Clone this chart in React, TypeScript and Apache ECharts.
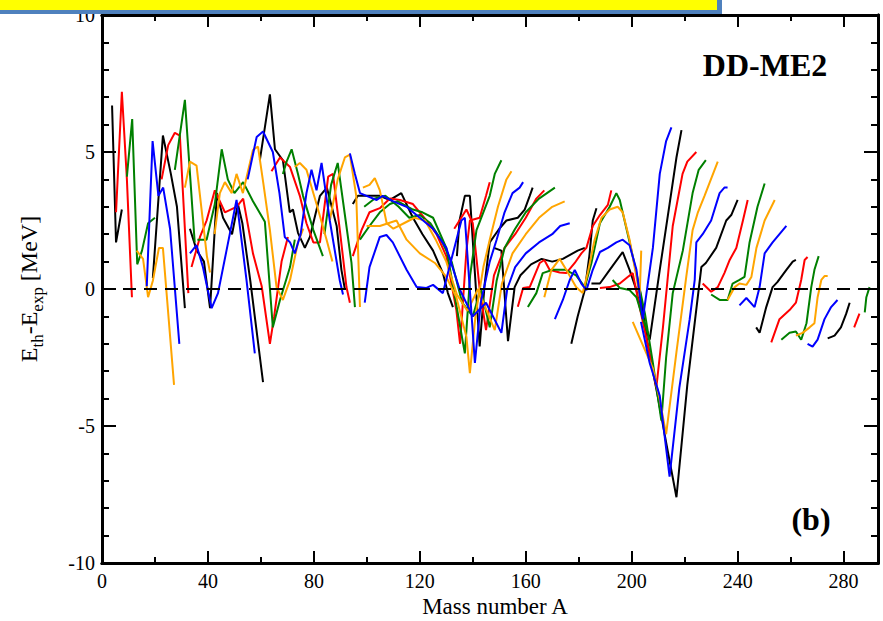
import React, { useEffect, useRef } from "react";
import * as echarts from "echarts";

const X_MAJOR = [0, 40, 80, 120, 160, 200, 240, 280];
const X_MINOR = [20, 60, 100, 140, 180, 220, 260];
const Y_MAJOR = [-10, -5, 0, 5, 10];
const Y_MINOR = [-9, -8, -7, -6, -4, -3, -2, -1, 1, 2, 3, 4, 6, 7, 8, 9];

const blackChains = [
  [[3.8, 6.7], [5.3, 1.7], [7.5, 2.9]],
  [[19.2, 0.4], [23, 5.6], [26, 4.2], [28.3, 3.0], [31.3, -0.7]],
  [[33.2, 2.2], [35.8, 1.4], [38.5, 1.0], [40.8, -0.7], [43.4, 3.5], [45.7, 2.6], [49.1, 2.0], [51.3, 3.1], [53, 2.4], [56, 0.3], [60.8, -3.4]],
  [[59.6, 4.7], [63.4, 7.1], [65.3, 5.1], [68.3, 4.7], [70.9, 2.8], [72.1, 2.9], [74, 2.05], [76.6, 1.5], [78.5, 1.9], [82.3, 3.4], [84.9, 3.7], [88.6, 2.3], [90.4, 0.7], [91.7, 0.0]],
  [[94.7, 3.1], [96.6, 3.4], [100.4, 3.4], [104.9, 3.4], [108.7, 3.25], [113, 3.5], [117.4, 2.6], [121, 2.0], [125, 1.4], [128.7, 0.58], [130.6, -0.15], [132.5, -0.66]],
  [[134, 1.2], [135, 2.5], [137, 3.4], [138.9, 3.4], [142.6, -2.1], [144.5, 0.2], [146.4, 1.7], [150, 2.2], [152.7, 2.5], [157, 2.6], [159.6, 2.9], [161.5, 3.4], [162.6, 3.7]],
  [[148, 1.5], [150.8, 1.4], [153.3, -1.9], [155.8, 0.07], [158, 0.5], [162, 0.9], [166, 1.1], [170, 1.0], [174, 1.1], [179.6, 1.4], [182.3, 1.5]],
  [[177.2, -2.0], [179.6, -1.0], [182.3, -0.04], [184, 1.2], [185.3, 2.5], [186.7, 2.95]],
  [[184.8, 0.2], [188, 0.2], [191.7, 0.7], [196.6, 1.35], [199.2, 0.7], [201.8, -0.04], [204, -1.0], [206.8, -1.85], [210.6, 0.7], [214.3, 3.1], [216.9, 4.8], [218.8, 5.8]],
  [[203, 0.0], [206, -2.0], [210, -4.0], [213, -5.6], [216.9, -7.6], [221, -3.5], [226.3, 0.8], [228, 0.95], [231.9, 1.5], [235.7, 2.5], [237.6, 2.7], [240, 3.25]],
  [[247, -1.4], [248.3, -1.6], [250.8, -0.66], [253.2, 0.07], [255, 0.25], [258.4, 0.7], [260.8, 1.0], [262, 1.06]],
  [[274, -1.8], [276.6, -1.7], [279, -1.4], [281, -0.9], [282.3, -0.5]],
];

const redChains = [
  [[5.3, 2.8], [7.5, 7.2], [9.4, 4.0], [11.3, -0.3]],
  [[22.5, 4.0], [25, 5.25], [27.5, 5.7], [29.4, 5.6], [32.6, -0.15]],
  [[33.8, 0.8], [37, 1.9], [39.5, 2.5], [42.6, 3.6], [46.4, 2.8], [50.8, 3.0], [53.3, 3.3], [57, 1.3], [60.3, 0.1], [63.4, -2.0], [65, -1.0], [67.8, 1.0], [70.2, 1.9]],
  [[64, 4.3], [67.2, 4.8], [71, 4.45], [74.7, 3.4], [77.2, 2.4], [79.8, 1.7], [82.3, 1.7], [85.4, 4.1], [87.2, 4.2], [89.8, 2.15], [92.3, 0.07], [93.6, -0.5]],
  [[94.7, 1.2], [98, 2.15], [101, 2.8], [104.9, 2.95], [108.7, 3.3], [112.5, 3.25], [117.4, 3.1], [122.5, 2.5], [126.3, 2.0], [130, 1.2], [133.8, -0.77], [135.2, -2.0], [137.6, 1.4], [138.9, 2.5], [142.6, 2.6], [145, 3.4], [146.4, 3.9]],
  [[133, 2.2], [137.6, 2.9], [140, 2.4], [142.6, 0.0], [145, -1.5], [148, 0.5], [152, 1.5], [156, 2.0], [160, 2.6], [164, 3.3], [167, 3.6]],
  [[157, -0.65], [159, 0.04], [161.5, 0.07], [165.3, 0.95], [167, 1.06], [169, 0.7], [172.8, 0.6], [175.3, 0.58], [178.5, 0.95], [181, 1.3], [182.9, 1.5], [185.3, 2.3], [188, 2.7], [191, 3.07], [192.3, 3.6]],
  [[188, 0.04], [191.7, 0.07], [195.5, 0.2], [198.5, 0.44], [200.4, 0.58], [203, -0.66], [206, -2.0], [209.3, -3.6], [211.8, -1.4], [215.5, 2.3], [219.2, 4.2], [221, 4.65], [224.4, 5.0]],
  [[226.8, 0.2], [230, -0.1], [232.5, 0.07], [235, 0.58], [237, 1.06], [239.5, 1.5], [242, 2.5], [243.8, 3.25]],
  [[252.7, -1.95], [255.8, -1.1], [259.6, -0.77], [262, -0.5], [264, 0.33], [265.3, 1.06], [266.4, 1.17]],
  [[284, -1.4], [286, -0.9]],
];

const greenChains = [
  [[9.4, 4.1], [11.4, 6.2], [13.3, 0.9], [15.1, 1.4], [17.4, 2.4], [20, 2.6]],
  [[27.5, 4.35], [31.3, 6.9], [35, 1.7]],
  [[36, 1.8], [39.5, 1.8], [42.6, 3.1], [45.2, 5.1], [47.5, 4.0], [50, 3.5], [53.3, 3.9], [57, 3.2], [61.5, 2.45], [64.5, -1.4], [67.2, -0.4], [71, 0.8], [72.8, 1.8]],
  [[68.3, 4.2], [69.7, 4.65], [71.6, 5.1], [74, 4.2], [75.9, 3.4], [79.8, 2.15], [83.4, 1.2]],
  [[84, 2.0], [86.5, 3.8], [89, 4.6], [92, 2.5], [94.2, 0.95], [95.5, -0.66]],
  [[97.4, 1.8], [101, 2.3], [104.9, 2.8], [108.7, 3.1], [111.7, 3.2], [117.4, 2.9], [121, 2.8], [125, 2.6], [130, 1.5], [135, -1.25], [137, -2.35], [139, 0.5], [141.4, 2.15], [146.4, 3.4], [148.3, 4.2], [150.8, 4.7]],
  [[99, 3.0], [103, 3.3], [107, 3.4], [112, 3.0], [116, 2.6], [120, 2.7], [124, 2.4], [128, 1.8], [132, 1.0], [136, -0.5], [140, -1.0], [143, 0.0], [146.4, -1.4], [149, 0.3], [152, 1.5], [156, 2.2], [160, 2.8], [165, 3.3], [168, 3.5], [171, 3.7]],
  [[160.8, -0.66], [164, -0.15], [166.4, 0.58], [170.2, 0.7], [175, 0.7], [179, 0.5], [182.3, 0.07], [184.8, 0.95], [188, 2.4], [191.7, 3.0], [194.2, 3.5], [195.5, 3.25], [199, 1.8], [201.8, 0.58], [205, -0.9], [208, -2.7], [211.2, -4.8], [213, -2.5], [215.5, -0.15], [219.3, 1.4], [223, 3.5], [225.3, 4.35], [228, 4.7]],
  [[192.8, 0.33], [195.5, 0.04], [199.2, -0.04], [201.8, -0.3], [204, -1.0], [206, -1.6]],
  [[230, -0.2], [233.2, -0.4], [236.2, -0.4], [238.1, 0.2], [240.7, 0.33], [242.6, 0.44], [244.5, 1.7], [247.5, 3.0], [250.2, 3.85]],
  [[256.5, -1.85], [259.6, -1.6], [262, -1.55], [264, -1.85], [266, -1.25], [267.8, 0.07], [269, 0.7], [270.6, 1.2]],
  [[288, -0.85], [288.6, -0.3], [289.8, 0.07]],
];

const orangeChains = [
  [[13.1, 1.4], [15.5, 1.1], [17.4, -0.3], [19.2, 0.3], [21.5, 1.5], [23, 1.5], [27.2, -3.5]],
  [[31.3, 3.7], [33.2, 4.65], [35.7, 4.5], [39.6, 1.2], [40.8, 0.6]],
  [[42.5, 2.0], [44.5, 3.5], [46.4, 3.9], [49, 3.5], [50.8, 4.2], [53.2, 3.5], [57, 5.07], [58.9, 5.2], [61, 3.8], [63.4, 2.15], [65.9, 0.07], [68.3, -0.4], [71, 0.33], [74, 1.7], [76, 2.2]],
  [[72.8, 4.45], [74.7, 4.6], [77.2, 4.35], [81, 3.1], [84.8, 1.8], [87, 1.0]],
  [[86, 2.5], [89, 4.0], [91.7, 4.8], [93.6, 4.9], [96, 3.4], [97.4, -0.66]],
  [[98.5, 3.7], [101, 3.8], [103, 4.05], [104.9, 3.6], [107.5, 2.4], [110, 2.2], [114, 2.4], [118, 2.6], [122, 2.5], [126, 1.8], [130, 1.0], [134, -0.2], [138, -0.8], [142, 0.0], [144, -0.5], [148.3, -1.5], [151, 0.2], [155, 1.3], [160, 2.0], [165, 2.6], [170, 3.0], [174.7, 3.2]],
  [[99.9, 2.3], [104.9, 2.3], [111.2, 2.5], [115, 1.8], [120, 1.3], [125.7, 0.95], [130, 0.44], [133.8, -0.3], [137.6, -1.75], [138.9, -3.07], [141, -1.0], [144, 0.8], [146.4, 1.8], [149.5, 3.0], [152.7, 4.0], [154.6, 4.3]],
  [[167, -0.3], [169.7, 0.7], [172.8, 1.1], [175.3, 0.7], [179, 0.07], [181.5, -0.15], [183.4, 0.58], [186, 1.8], [188.6, 2.6], [191.7, 2.9], [194.7, 3.0], [196.6, 2.8], [199.2, 1.8], [201.8, 0.44], [203, -0.3], [203.6, 1.4]],
  [[200.4, -1.2], [204, -2.0], [208, -2.9], [210.5, -4.0], [213, -5.3], [216.9, -2.3], [220.6, 0.44], [223, 2.15], [225, 2.8], [227.5, 3.4], [232.5, 4.65]],
  [[236.2, -0.4], [238.9, 0.07], [240.7, 0.2], [243.3, 0.15], [245.2, 0.44], [247.1, 1.5], [250.2, 2.5], [254, 3.25]],
  [[262, -1.7], [264.5, -1.6], [267.2, -1.4], [269, -1.25], [270.2, -0.3], [271.6, 0.33], [272.8, 0.47], [274, 0.47]],
];

const blueChains = [
  [[16.9, 0.1], [19.1, 5.4], [21.3, 3.4], [23.1, 3.7], [25.7, 2.2], [29.2, -2.0]],
  [[33.2, 1.3], [35.7, 1.6], [38.1, 0.8], [41.4, -0.7], [43.8, -0.15], [47, 1.4], [50.8, 3.25], [54.6, 0.3], [57.7, -2.35]],
  [[55, 4.0], [58.4, 5.55], [60.8, 5.75], [64.5, 5.0], [67, 3.5], [69, 1.9], [71, 1.7], [72.8, 1.3], [75, 2.0], [77.2, 3.5], [79.1, 4.35], [81, 3.6], [82.9, 4.6], [86, 2.5], [89.8, 0.3], [91, -0.2]],
  [[93.6, 4.95], [95.5, 4.2], [97.4, 3.5], [99.9, 3.4], [103.7, 3.25], [106, 3.4], [110, 3.2], [115, 3.0], [120, 2.6], [125, 2.2], [130, 1.5], [135, 0.0], [140, -1.0], [145, -0.5], [150.8, -1.6], [153, 0.0], [156, 0.8], [160, 1.3], [165, 1.7], [170, 2.0], [173, 2.3], [176.6, 2.4]],
  [[99.2, -0.5], [101, 0.8], [104.9, 1.9], [107.4, 1.97], [109.8, 1.7], [115, 0.7], [118.8, 0.07], [122.5, 0.04], [125, 0.15], [128.7, -0.15], [132.5, 1.3], [135.7, 2.5], [137, 2.6], [140.8, -2.7], [143, -0.5], [146.4, 1.0], [149, 1.8], [152, 2.8], [155, 3.5], [157.7, 3.7], [159, 3.9]],
  [[171, -1.1], [174, -0.4], [176.6, 0.33], [178.5, 0.7], [181, 0.2], [182.9, -0.04], [185.3, 0.7], [188, 1.35], [191, 1.5], [194.2, 1.7], [196.6, 1.8], [199.2, 1.6], [201.8, 0.7], [204.2, -1.1], [208, 1.5], [210.6, 4.2], [213, 5.4], [215, 5.9]],
  [[203.5, -1.2], [206.8, -2.7], [210.6, -3.9], [214.3, -6.85], [218, -3.6], [221.9, -1.1], [223.8, 0.33], [224.4, 1.7], [226.8, 2.0], [230, 2.5], [233.2, 3.5], [235, 3.7], [236.2, 3.7]],
  [[240.7, -0.6], [243.3, -0.33], [246.4, -0.66], [248.3, 0.07], [250.2, 1.3], [253.2, 1.7], [255.8, 2.0], [258.4, 2.3]],
  [[266.4, -2.0], [268.3, -2.1], [270.2, -1.85], [272.8, -1.1], [275.3, -0.66], [277.7, -0.4]],
];

const ZERO_LINE = [[0, 0], [293, 0]];

const SERIF = "'Liberation Serif', 'DejaVu Serif', serif";

function chainSeries(chains: number[][][], color: string) {
  return chains.map((c) => ({
    type: "line",
    data: c,
    showSymbol: false,
    symbol: "none",
    silent: true,
    color,
    lineStyle: { color, width: 2 },
    z: 2,
  }));
}

function xAxisDef(position: string, ticks: number[], len: number, withLabels: boolean) {
  return {
    type: "value",
    min: 0,
    max: 293,
    position,
    axisLine: { show: true, onZero: false, lineStyle: { color: "#000", width: 3 } },
    axisTick: { show: true, inside: true, length: len, customValues: ticks, lineStyle: { color: "#000", width: 2 } },
    splitLine: { show: false },
    axisLabel: withLabels
      ? { show: true, customValues: ticks, fontFamily: SERIF, fontSize: 20, color: "#000", margin: 8 }
      : { show: false },
  };
}

function yAxisDef(position: string, ticks: number[], len: number, withLabels: boolean) {
  return {
    type: "value",
    min: -10,
    max: 10,
    position,
    axisLine: { show: true, onZero: false, lineStyle: { color: "#000", width: 3 } },
    axisTick: { show: true, inside: true, length: len, customValues: ticks, lineStyle: { color: "#000", width: 2 } },
    splitLine: { show: false },
    axisLabel: withLabels
      ? { show: true, customValues: ticks, fontFamily: SERIF, fontSize: 20, color: "#000", margin: 7 }
      : { show: false },
  };
}

export default function App() {
  const ref = useRef<HTMLDivElement>(null);
  useEffect(() => {
    if (!ref.current) return;
    const chart = echarts.init(ref.current, null, { renderer: "svg" });
    const xMain: any = xAxisDef("bottom", X_MAJOR, 12, true);
    const yMain: any = yAxisDef("left", Y_MAJOR, 14, true);
    yMain.name = "{a|E}{b|th}{a|-E}{b|exp}{a| [MeV]}";
    yMain.nameLocation = "middle";
    yMain.nameRotate = 90;
    yMain.nameGap = 56;
    yMain.nameTextStyle = {
      fontFamily: SERIF,
      color: "#000",
      rich: {
        a: { fontFamily: SERIF, fontSize: 24, color: "#000", lineHeight: 24, verticalAlign: "top" },
        b: { fontFamily: SERIF, fontSize: 17, color: "#000", lineHeight: 29, verticalAlign: "bottom" },
      },
    };
    const series: any[] = [
      ...chainSeries(blackChains, "#000000"),
      ...chainSeries(redChains, "#ff0000"),
      ...chainSeries(greenChains, "#008000"),
      ...chainSeries(orangeChains, "#ffa500"),
      ...chainSeries(blueChains, "#0000ff"),
      {
        type: "line",
        data: ZERO_LINE,
        showSymbol: false,
        symbol: "none",
        silent: true,
        lineStyle: { color: "#000", width: 2, type: [13, 8] },
        z: 3,
      },
    ];
    chart.setOption({
      animation: false,
      backgroundColor: "#ffffff",
      grid: { left: 102, right: 5, top: 15, bottom: 58, containLabel: false, outerBoundsMode: "none" },
      xAxis: [
        xMain,
        xAxisDef("bottom", X_MINOR, 6, false),
        xAxisDef("top", X_MAJOR, 12, false),
        xAxisDef("top", X_MINOR, 6, false),
      ],
      yAxis: [
        yMain,
        yAxisDef("left", Y_MINOR, 7, false),
        yAxisDef("right", Y_MAJOR, 14, false),
        yAxisDef("right", Y_MINOR, 7, false),
      ],
      series,
      graphic: [
        { type: "rect", shape: { x: 0, y: 0, width: 718, height: 10 }, style: { fill: "#ffff00" }, z: 100 },
        { type: "rect", shape: { x: 0, y: 10, width: 722, height: 4 }, style: { fill: "#4f81bd" }, z: 100 },
        { type: "rect", shape: { x: 717, y: 0, width: 5, height: 14 }, style: { fill: "#4f81bd" }, z: 100 },
        {
          type: "text",
          x: 495,
          y: 606,
          style: { text: "Mass number A", fontFamily: SERIF, fontSize: 23, fill: "#000", align: "center", verticalAlign: "middle" },
          z: 50,
        },
        {
          type: "text",
          x: 765,
          y: 65,
          style: { text: "DD-ME2", fontFamily: SERIF, fontWeight: "bold", fontSize: 32, fill: "#000", align: "center", verticalAlign: "middle" },
          z: 50,
        },
        {
          type: "text",
          x: 811,
          y: 519,
          style: { text: "(b)", fontFamily: SERIF, fontWeight: "bold", fontSize: 32, fill: "#000", align: "center", verticalAlign: "middle" },
          z: 50,
        },
      ],
    });
    return () => chart.dispose();
  }, []);
  return (
    <div
      ref={ref}
      style={{ position: "absolute", left: 0, top: 0, width: 883, height: 621, background: "#fff" }}
    />
  );
}
